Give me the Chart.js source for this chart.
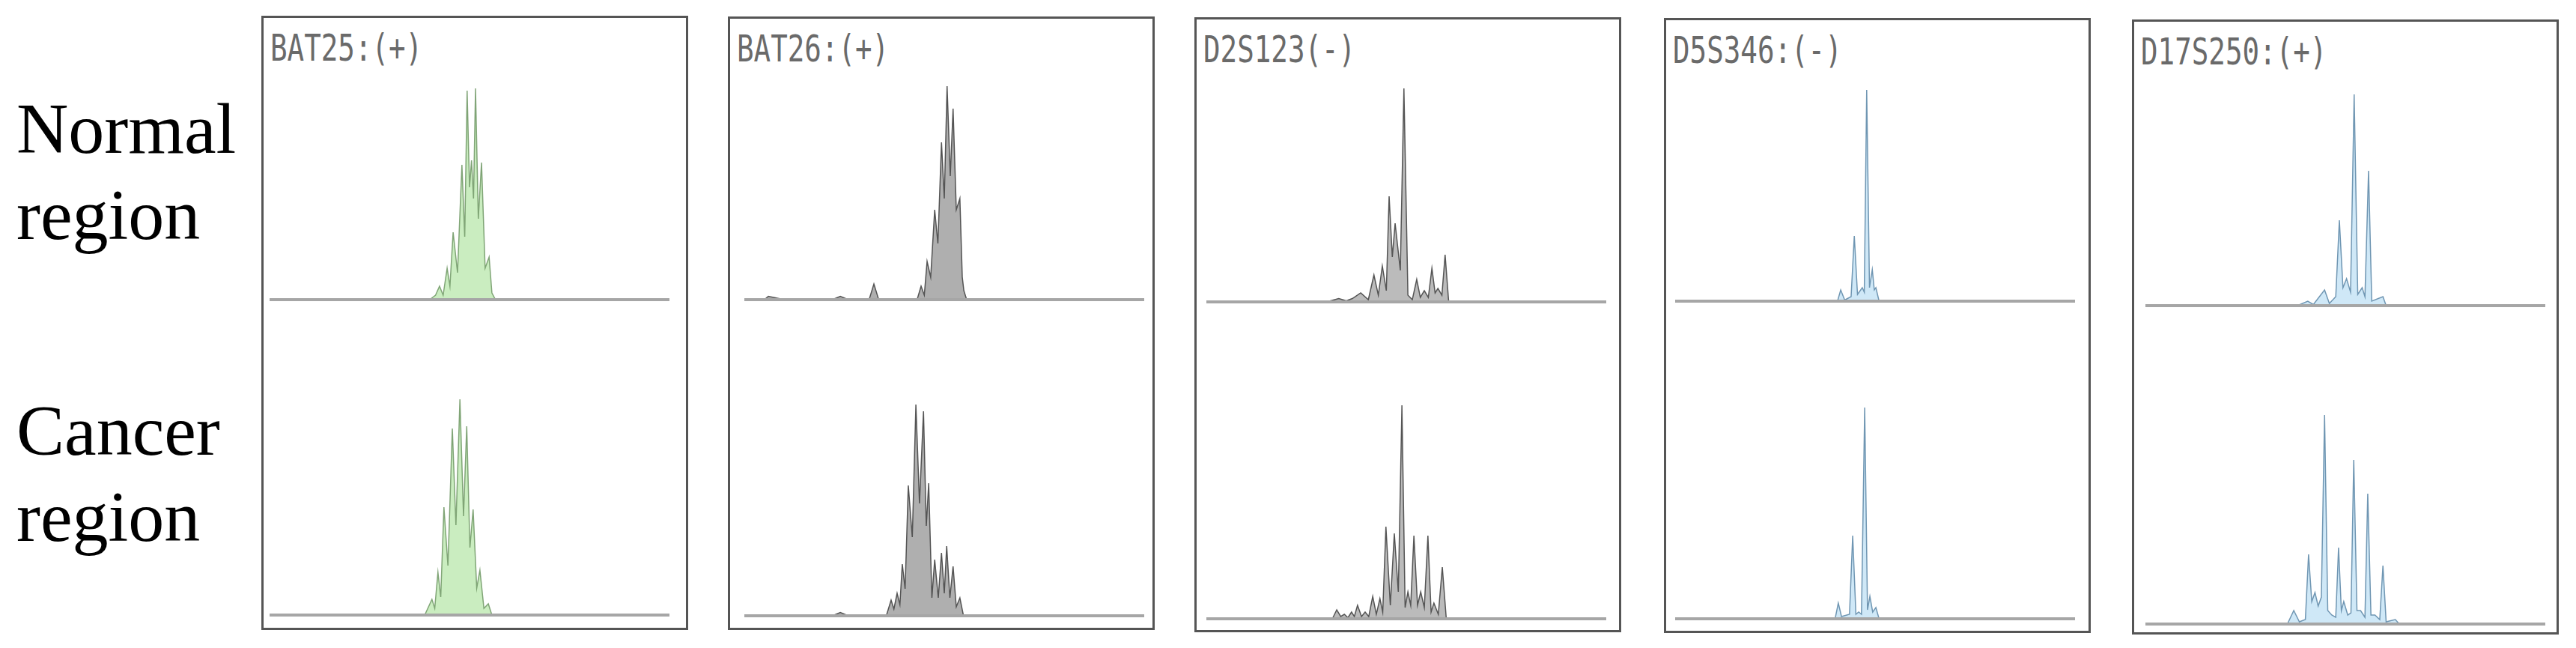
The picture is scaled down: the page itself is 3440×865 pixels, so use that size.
<!DOCTYPE html>
<html>
<head>
<meta charset="utf-8">
<script src="https://cdn.jsdelivr.net/npm/chart.js@4/dist/chart.umd.min.js"></script>
<style>
  html, body { margin: 0; padding: 0; background: #fff; }
  #page { position: relative; width: 3440px; height: 865px; overflow: hidden; background: #fff; }
  .row-label { position: absolute; left: 22px; font-family: "Liberation Serif", "Times New Roman", Tinos, "DejaVu Serif", serif; font-size: 96px; line-height: 115px; color: #000; white-space: nowrap; }
  .box { position: absolute; box-sizing: border-box; border: 3px solid #555; }
  .title { position: absolute; font-family: "DejaVu Sans Mono", monospace; font-size: 50px; line-height: 50px; color: #6a6a6a; white-space: nowrap; transform: scaleX(0.75); transform-origin: left top; }
  canvas { position: absolute; }
</style>
</head>
<body>
<div id="page"></div>
<script>
// marker names and MSI status
const markers = ["BAT25:(+)", "BAT26:(+)", "D2S123(-)", "D5S346:(-)", "D17S250:(+)"];
const rowLabels = ["Normal region", "Cancer region"];

// traces: x = relative run position (0-100), y = relative fluorescence (0-100)
const bat25NormalX = [0, 40.0, 41.5, 42.5, 43.4, 44.4, 45.1, 45.9, 47.0, 47.5, 48.1, 48.8, 49.4, 50.0, 50.5, 51.0, 51.5, 52.2, 53.0, 53.9, 54.9, 55.6, 56.5, 100];
const bat25NormalY = [0, 0, 2, 6, 2, 14, 6, 30, 12, 34, 60, 28, 93, 50, 62, 45, 94, 36, 61, 14, 19, 3, 0, 0];
const bat25CancerX = [0, 38.8, 40.6, 41.3, 42.1, 42.8, 43.6, 44.6, 45.7, 46.6, 47.6, 48.5, 49.3, 50.1, 50.9, 51.8, 52.6, 53.6, 54.7, 55.6, 100];
const bat25CancerY = [0, 0, 7, 3, 19, 8, 48, 22, 83, 40, 96, 44, 84, 30, 47, 12, 20, 3, 5, 0, 0];

const bat26NormalX = [0, 5, 6, 10, 22, 24, 26, 31.2, 32.4, 33.6, 38, 43.2, 44.2, 45.0, 45.7, 46.6, 47.6, 48.4, 49.3, 50.0, 50.7, 51.5, 52.2, 53.0, 53.9, 54.5, 54.9, 55.6, 100];
const bat26NormalY = [0, 0, 1.5, 0, 0, 1.5, 0, 0, 7, 0, 0, 0, 6, 2, 17, 10, 40, 25, 70, 45, 95, 55, 85, 40, 45, 10, 4, 0, 0];
const bat26CancerX = [0, 22, 24, 26, 35.5, 36.7, 37.4, 38.2, 38.9, 39.5, 40.2, 41.0, 42.0, 42.9, 43.8, 44.8, 45.5, 46.1, 46.9, 47.6, 48.5, 49.3, 50.0, 50.6, 51.4, 52.2, 53.0, 53.9, 54.8, 100];
const bat26CancerY = [0, 0, 1.5, 0, 0, 7, 3, 10, 5, 23, 12, 58, 35, 94, 50, 91, 40, 59, 8, 25, 8, 28, 10, 31, 8, 22, 4, 8, 0, 0];

const d2s123NormalX = [0, 30, 33.1, 35, 36.5, 38.6, 40.5, 41.9, 43.0, 44.0, 45.0, 45.7, 46.5, 47.2, 48.5, 49.4, 50.4, 51.5, 52.6, 53.5, 54.5, 55.5, 56.4, 57.2, 57.9, 58.9, 59.7, 60.6, 100];
const d2s123NormalY = [0, 0, 1.5, 0.5, 1.5, 4, 1, 12, 3, 16, 5, 47, 20, 35, 14, 95, 3, 1, 10, 2, 5, 2, 15, 4, 6, 3, 21, 0, 0];
const d2s123CancerX = [0, 31.5, 32.6, 33.6, 34.5, 35.4, 36.3, 37.0, 37.8, 38.8, 39.7, 40.6, 41.6, 42.5, 43.4, 44.1, 44.9, 46.0, 47.0, 48.0, 48.9, 49.7, 50.4, 51.1, 51.9, 52.8, 53.6, 54.5, 55.4, 56.2, 56.9, 58.0, 59.0, 60.0, 100];
const d2s123CancerY = [0, 0, 4, 1, 2, 0.5, 3, 1, 6, 1, 3, 1, 10, 2, 9, 3, 41, 6, 38, 12, 95, 5, 12, 6, 37, 6, 12, 5, 37, 3, 7, 2, 23, 0, 0];

const d5s346NormalX = [0, 40.6, 41.4, 42.4, 44.0, 44.8, 45.6, 46.8, 47.3, 47.9, 48.6, 49.3, 49.8, 50.2, 51.0, 100];
const d5s346NormalY = [0, 0, 5, 0.5, 2, 29, 3, 6, 4, 94, 6, 14, 5, 6, 0, 0];
const d5s346CancerX = [0, 40.0, 40.8, 41.6, 43.6, 44.4, 45.2, 45.9, 46.6, 47.4, 48.1, 48.7, 49.4, 50.2, 51.0, 100];
const d5s346CancerY = [0, 0, 7, 1, 2, 37, 2, 3, 2, 94, 4, 10, 3, 5, 0, 0];

const d17s250NormalX = [0, 38, 40.6, 42.0, 44.8, 46.0, 47.6, 48.5, 49.4, 50.3, 51.3, 52.2, 53.1, 54.2, 54.9, 55.8, 56.6, 59.4, 60.2, 100];
const d17s250NormalY = [0, 0, 2, 0.5, 7, 1, 4, 38, 8, 12, 6, 94, 5, 8, 4, 60, 2, 4, 0, 0];
const d17s250CancerX = [0, 35.5, 37.1, 38.5, 40.0, 40.8, 41.6, 42.4, 43.2, 44.0, 44.8, 45.6, 46.6, 47.6, 48.3, 49.0, 49.6, 50.6, 51.4, 52.1, 52.9, 53.8, 54.9, 55.6, 56.4, 57.4, 58.6, 59.4, 60.2, 62.5, 63.5, 100];
const d17s250CancerY = [0, 0, 6, 1, 2, 31, 10, 14, 8, 12, 93, 6, 4, 3, 34, 6, 10, 4, 5, 73, 6, 6, 3, 58, 4, 4, 2, 26, 1, 2, 0, 0];

const boxLeft = [349, 972, 1595, 2222, 2847];
const boxTop = [21, 22, 23, 24, 26];
const boxBottom = [841, 841, 844, 845, 847];
const boxWidth = 570;
const traceInset = [11, 22, 16, 15, 18];
const traceWidth = 534;
const upperBase = [400, 400, 403, 402, 408];
const lowerBase = [821, 822, 826, 826, 833];
const traceHeight = 300;
const pad = 4;

const inks = [
  { line: "rgba(110,150,100,0.85)", fill: "rgba(150,220,130,0.5)" },
  { line: "rgba(70,70,70,0.9)", fill: "rgba(110,110,110,0.55)" },
  { line: "rgba(70,70,70,0.9)", fill: "rgba(120,120,120,0.5)" },
  { line: "rgba(105,145,175,0.95)", fill: "rgba(160,210,240,0.5)" },
  { line: "rgba(105,145,175,0.95)", fill: "rgba(160,210,240,0.5)" }
];

const traces = [
  [[bat25NormalX, bat25NormalY], [bat25CancerX, bat25CancerY]],
  [[bat26NormalX, bat26NormalY], [bat26CancerX, bat26CancerY]],
  [[d2s123NormalX, d2s123NormalY], [d2s123CancerX, d2s123CancerY]],
  [[d5s346NormalX, d5s346NormalY], [d5s346CancerX, d5s346CancerY]],
  [[d17s250NormalX, d17s250NormalY], [d17s250CancerX, d17s250CancerY]]
];

const page = document.getElementById("page");

// row labels
[[114, rowLabels[0]], [517, rowLabels[1]]].forEach(([top, text]) => {
  const d = document.createElement("div");
  d.className = "row-label";
  d.style.top = top + "px";
  d.innerHTML = text.split(" ").join("<br>");
  page.appendChild(d);
});

// grey baseline drawn over the foot of every trace
const baseline = {
  id: "baseline",
  afterDatasetsDraw(chart) {
    const { ctx, chartArea, scales } = chart;
    const y = scales.y.getPixelForValue(0);
    ctx.save();
    ctx.strokeStyle = "#a6a6a6";
    ctx.lineWidth = 4;
    ctx.beginPath();
    ctx.moveTo(chartArea.left, y);
    ctx.lineTo(chartArea.right, y);
    ctx.stroke();
    ctx.restore();
  }
};

markers.forEach((name, i) => {
  const box = document.createElement("div");
  box.className = "box";
  box.style.left = boxLeft[i] + "px";
  box.style.top = boxTop[i] + "px";
  box.style.width = boxWidth + "px";
  box.style.height = (boxBottom[i] - boxTop[i]) + "px";
  page.appendChild(box);

  const t = document.createElement("div");
  t.className = "title";
  t.textContent = name;
  t.style.left = (boxLeft[i] + 12) + "px";
  t.style.top = (boxTop[i] + 18) + "px";
  page.appendChild(t);

  [upperBase[i], lowerBase[i]].forEach((base, r) => {
    const cv = document.createElement("canvas");
    cv.width = traceWidth + pad * 2;
    cv.height = traceHeight + pad * 2;
    cv.style.left = (boxLeft[i] + traceInset[i] - pad) + "px";
    cv.style.top = (base - traceHeight - pad) + "px";
    page.appendChild(cv);

    const [xs, ys] = traces[i][r];
    new Chart(cv.getContext("2d"), {
      type: "line",
      data: {
        datasets: [{
          data: xs.map((x, k) => ({ x: x, y: ys[k] })),
          borderColor: inks[i].line,
          backgroundColor: inks[i].fill,
          fill: "origin",
          borderWidth: 1.5,
          pointRadius: 0,
          tension: 0,
          clip: false
        }]
      },
      options: {
        responsive: false,
        animation: false,
        layout: { padding: pad },
        plugins: { legend: { display: false }, tooltip: { enabled: false } },
        scales: {
          x: { type: "linear", min: 0, max: 100, display: false },
          y: { min: 0, max: 100, display: false }
        }
      },
      plugins: [baseline]
    });
  });
});
</script>
</body>
</html>
